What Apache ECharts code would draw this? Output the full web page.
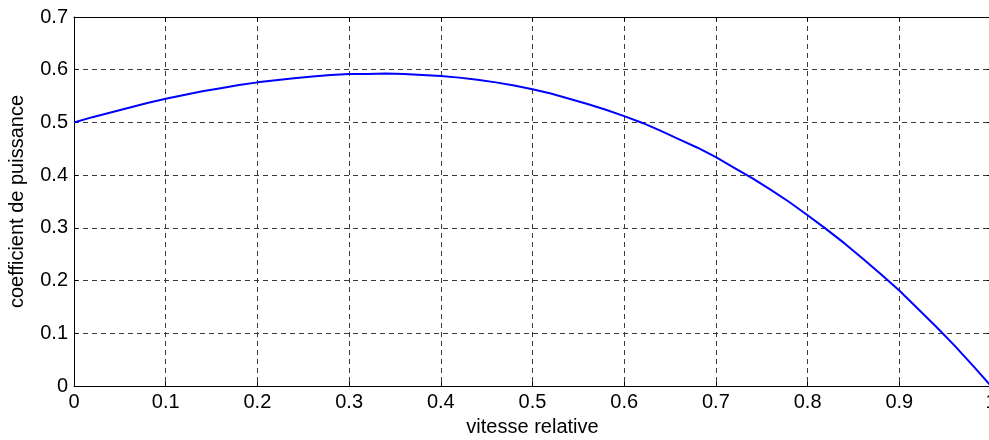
<!DOCTYPE html>
<html><head><meta charset="utf-8">
<script src="https://cdn.jsdelivr.net/npm/echarts@6/dist/echarts.min.js"></script>
<style>html,body{margin:0;padding:0;background:#fff}#c{width:989px;height:440px}</style>
</head><body><div id="c"></div>
<script>
var xValues = [0,0.02,0.04,0.06,0.08,0.10,0.12,0.14,0.16,0.18,0.20,0.22,0.24,0.26,0.28,0.30,0.32,0.34,0.36,0.38,0.40,0.42,0.44,0.46,0.48,0.50,0.52,0.54,0.56,0.58,0.60,0.62,0.64,0.66,0.68,0.70,0.72,0.74,0.76,0.78,0.80,0.82,0.84,0.86,0.88,0.90,0.92,0.94,0.96,0.98,1.00];
var cpValues = [0.500,0.510,0.519,0.528,0.537,0.545,0.552,0.559,0.565,0.571,0.576,0.580,0.584,0.587,0.590,0.592,0.592,0.593,0.592,0.590,0.588,0.585,0.581,0.576,0.570,0.563,0.555,0.545,0.535,0.524,0.512,0.499,0.484,0.468,0.452,0.434,0.414,0.394,0.372,0.349,0.324,0.298,0.271,0.242,0.212,0.181,0.147,0.113,0.077,0.039,0.000];
var xLabel = 'vitesse relative';
var yLabel = 'coefficient de puissance';

var data = xValues.map(function(x,i){return [x,cpValues[i]];});
var font = 'Liberation Sans, Arial, sans-serif';
var gridLine = {show:true, lineStyle:{color:'#3a3a3a', type:[5,4], width:1}};
var chart = echarts.init(document.getElementById('c'), null, {renderer:'canvas'});
chart.setOption({
  animation:false,
  backgroundColor:'#fff',
  grid:{left:74, top:17, width:917, height:369, containLabel:false, outerBoundsMode:'none'},
  xAxis:[{
    type:'value', min:0, max:1, interval:0.1, position:'bottom',
    name:xLabel, nameLocation:'middle', nameGap:31,
    nameTextStyle:{fontFamily:font, fontSize:20, color:'#000'},
    axisLine:{show:true, onZero:false, lineStyle:{color:'#000', width:1}},
    axisTick:{show:true, inside:true, length:4, lineStyle:{color:'#000'}},
    axisLabel:{fontFamily:font, fontSize:20, color:'#000', margin:6, hideOverlap:false,
      formatter:function(v){return String(Math.round(v*10)/10);}},
    splitLine:gridLine
  },{
    type:'value', min:0, max:1, interval:0.1, position:'top',
    axisLine:{show:true, onZero:false, lineStyle:{color:'#000', width:1}},
    axisTick:{show:true, inside:true, length:4, lineStyle:{color:'#000'}},
    axisLabel:{show:false}, splitLine:{show:false}
  }],
  yAxis:[{
    type:'value', min:0, max:0.7, interval:0.1, position:'left',
    name:yLabel, nameLocation:'middle', nameGap:47, nameRotate:90,
    nameTextStyle:{fontFamily:font, fontSize:20, color:'#000'},
    axisLine:{show:true, onZero:false, lineStyle:{color:'#000', width:1}},
    axisTick:{show:true, inside:true, length:4, lineStyle:{color:'#000'}},
    axisLabel:{fontFamily:font, fontSize:20, color:'#000', margin:6,
      formatter:function(v){return String(Math.round(v*10)/10);}},
    splitLine:gridLine
  },{
    type:'value', min:0, max:0.7, interval:0.1, position:'right',
    axisLine:{show:true, onZero:false, lineStyle:{color:'#000', width:1}},
    axisTick:{show:true, inside:true, length:4, lineStyle:{color:'#000'}},
    axisLabel:{show:false}, splitLine:{show:false}
  }],
  series:[{
    type:'line', data:data, xAxisIndex:0, yAxisIndex:0,
    showSymbol:false, smooth:false,
    lineStyle:{color:'#0000ff', width:2}
  }]
});
</script></body></html>
